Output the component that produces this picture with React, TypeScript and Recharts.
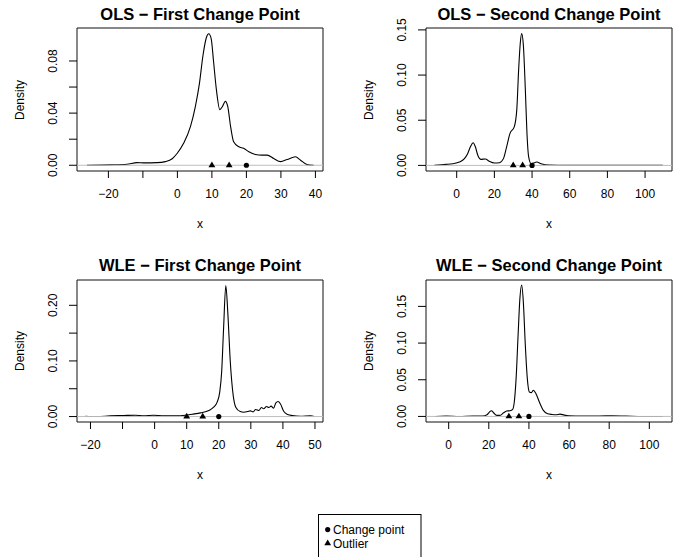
import { ComposedChart, Line, ReferenceArea, ReferenceLine, Scatter, XAxis, YAxis } from "recharts";

const FONT = '"Liberation Sans", Arial, Helvetica, sans-serif';

// OLS - first change point (density estimate)
const ols1X = [-26.2, -19.4, -14.6, -11.7, -9.8, -5.9, -3.5, -1.5, -0.1, 1.8, 3.8, 5.2, 6.4, 7.4, 8.4, 9.1, 9.8, 10.5, 11.3, 12.3, 13.1, 13.9, 14.6, 15.4, 16.3, 17.8, 19.2, 20.7, 22.6, 24.5, 26.0, 27.9, 29.9, 31.8, 34.2, 35.7, 37.6, 39.5];
const ols1Y = [0, 0.0003, 0.0008, 0.002, 0.0018, 0.002, 0.0028, 0.005, 0.009, 0.0168, 0.0298, 0.045, 0.063, 0.084, 0.098, 0.1009, 0.097, 0.079, 0.058, 0.0427, 0.0453, 0.049, 0.045, 0.03, 0.018, 0.0142, 0.013, 0.0104, 0.0083, 0.0078, 0.0078, 0.0052, 0.0028, 0.0044, 0.0065, 0.0039, 0.0005, 0];
const ols1XTicks = [-20, -10, 0, 10, 20, 30, 40];
const ols1XLabels = ["−20", "", "0", "10", "20", "30", "40"];
const ols1YTicks = [0, 0.02, 0.04, 0.06, 0.08];
const ols1YLabels = ["0.00", "", "0.04", "", "0.08"];
const ols1Outliers = [10, 15];
const ols1Change = [20];

// OLS - second change point
const ols2X = [-11.9, -5.7, -2.1, 1.4, 4.1, 5.8, 7.3, 8.7, 9.9, 11.2, 12.9, 15.2, 17.3, 20.0, 22.7, 24.8, 26.5, 28.3, 30.6, 31.9, 32.9, 33.8, 34.5, 35.4, 36.5, 37.3, 38.2, 39.5, 40.7, 42.5, 44.8, 49.2, 58, 70, 85, 100, 109.4];
const ols2Y = [0, 0.0011, 0.0019, 0.0037, 0.0075, 0.013, 0.0206, 0.025, 0.0206, 0.0112, 0.0067, 0.0071, 0.0045, 0.0026, 0.003, 0.0075, 0.0206, 0.0355, 0.043, 0.0617, 0.1066, 0.1366, 0.1459, 0.1328, 0.0804, 0.0355, 0.0094, 0.0019, 0.0026, 0.0037, 0.0019, 0.0004, 0, 0, 0, 0, 0];
const ols2XTicks = [0, 20, 40, 60, 80, 100];
const ols2XLabels = ["0", "20", "40", "60", "80", "100"];
const ols2YTicks = [0, 0.05, 0.1, 0.15];
const ols2YLabels = ["0.00", "0.05", "0.10", "0.15"];
const ols2Outliers = [30, 35];
const ols2Change = [40];

// WLE - first change point
const wle1X = [-21.6, -18, -13.8, -9.7, -6.0, -3.4, -0.3, 2.8, 7.0, 9.6, 11.7, 14.3, 16.9, 18.4, 19.5, 20.3, 20.9, 21.5, 22.2, 22.8, 23.6, 24.5, 25.3, 26.7, 27.8, 29.0, 29.9, 30.7, 31.5, 32.5, 33.3, 34.0, 34.9, 35.6, 36.3, 37.1, 37.8, 38.5, 39.2, 40.3, 41.5, 42.9, 45.5, 48.6, 49.8];
const wle1Y = [0.0006, 0, 0.0012, 0.0018, 0.0024, 0.0012, 0.0024, 0.0012, 0.0012, 0.0024, 0.0042, 0.0066, 0.0108, 0.0169, 0.026, 0.044, 0.08, 0.158, 0.2355, 0.1886, 0.098, 0.038, 0.0169, 0.009, 0.0078, 0.009, 0.0102, 0.0084, 0.0126, 0.0108, 0.0163, 0.0139, 0.018, 0.0163, 0.0187, 0.015, 0.0247, 0.0271, 0.0229, 0.009, 0.0036, 0.0018, 0.0006, 0.0012, 0];
const wle1XTicks = [-20, -10, 0, 10, 20, 30, 40, 50];
const wle1XLabels = ["−20", "", "0", "10", "20", "30", "40", "50"];
const wle1YTicks = [0, 0.05, 0.1, 0.15, 0.2];
const wle1YLabels = ["0.00", "", "0.10", "", "0.20"];
const wle1Outliers = [10, 15];
const wle1Change = [20];

// WLE - second change point
const wle2X = [-6.6, -1.3, 5.3, 12.0, 16.9, 19.1, 20.3, 21.3, 22.4, 23.9, 25.6, 27.2, 28.9, 30.6, 31.9, 32.7, 33.6, 34.6, 35.5, 36.4, 37.2, 38.2, 39.2, 40.2, 41.2, 42.2, 43.5, 45.2, 47.2, 49.3, 51.5, 53.5, 55.5, 57.6, 60.1, 66.8, 75.1, 81.7, 88.4, 96.7, 106.6];
const wle2Y = [0, 0.0005, 0, 0.0005, 0.0005, 0.0023, 0.0059, 0.0078, 0.005, 0.0014, 0.0014, 0.0046, 0.0073, 0.0078, 0.0096, 0.0196, 0.0515, 0.111, 0.161, 0.1792, 0.1564, 0.097, 0.0515, 0.0333, 0.0324, 0.0356, 0.031, 0.0196, 0.0082, 0.0036, 0.0027, 0.0023, 0.0032, 0.0018, 0.0009, 0.0005, 0.0005, 0.0009, 0.0005, 0, 0];
const wle2XTicks = [0, 20, 40, 60, 80, 100];
const wle2XLabels = ["0", "20", "40", "60", "80", "100"];
const wle2YTicks = [0, 0.05, 0.1, 0.15];
const wle2YLabels = ["0.00", "0.05", "0.10", "0.15"];
const wle2Outliers = [30, 35];
const wle2Change = [40];

const legendLabels = ["Change point", "Outlier"];

type PanelProps = {
  title: string;
  xs: number[];
  ys: number[];
  xTicks: number[];
  xLabels: string[];
  yTicks: number[];
  yLabels: string[];
  outliers: number[];
  changes: number[];
  xDomain: [number, number];
  yDomain: [number, number];
  left: number;
  top: number;
  plotHeight: number;
  titleTop: number;
};

const triangle = (props: any) => {
  const { cx, cy } = props;
  return <path d={`M${cx},${cy - 3.8}L${cx + 3.4},${cy + 1.9}L${cx - 3.4},${cy + 1.9}Z`} fill="#000" />;
};

const dot = (props: any) => <circle cx={props.cx} cy={props.cy} r={2.6} fill="#000" />;

function Panel(p: PanelProps) {
  const W = 333;
  const MT = 28;
  const XH = 40;
  const H = MT + p.plotHeight + XH;
  const curve = p.xs.map((x, i) => ({ x, y: p.ys[i] }));
  const outl = p.outliers.map((x) => ({ x, y: 0 }));
  const chg = p.changes.map((x) => ({ x, y: 0 }));
  const plotMid = MT + p.plotHeight / 2;

  return (
    <div style={{ position: "absolute", left: p.left, top: p.top, width: W, height: H, fontFamily: FONT }}>
      <div
        style={{
          position: "absolute",
          left: 77,
          width: 246,
          top: p.titleTop,
          lineHeight: "20px",
          textAlign: "center",
          fontWeight: "bold",
          fontSize: 16.5,
          whiteSpace: "nowrap",
        }}
      >
        {p.title}
      </div>
      <div
        style={{
          position: "absolute",
          left: -40,
          top: plotMid - 10,
          width: 120,
          lineHeight: "20px",
          textAlign: "center",
          fontSize: 12,
          transform: "rotate(-90deg)",
        }}
      >
        Density
      </div>
      <div
        style={{
          position: "absolute",
          left: 77,
          width: 246,
          top: MT + p.plotHeight + 43,
          lineHeight: "20px",
          textAlign: "center",
          fontSize: 12,
        }}
      >
        x
      </div>
      <ComposedChart width={W} height={H} margin={{ top: MT, right: 10, bottom: 0, left: 0 }}>
        <XAxis
          type="number"
          dataKey="x"
          domain={p.xDomain}
          ticks={p.xTicks}
          interval={0}
          allowDataOverflow
          axisLine={false}
          tickSize={7}
          tickLine={{ stroke: "#000" }}
          height={XH}
          tick={(t: any) => {
            const label = p.xLabels[p.xTicks.indexOf(t.payload.value)];
            if (!label) return <g />;
            return (
              <text x={t.x} y={t.y + 18} textAnchor="middle" fontSize={12} fontFamily={FONT} fill="#000">
                {label}
              </text>
            );
          }}
        />
        <YAxis
          type="number"
          dataKey="y"
          domain={p.yDomain}
          ticks={p.yTicks}
          interval={0}
          allowDataOverflow
          axisLine={false}
          tickSize={8}
          tickLine={{ stroke: "#000" }}
          width={77}
          tick={(t: any) => {
            const label = p.yLabels[p.yTicks.indexOf(t.payload.value)];
            if (!label) return <g />;
            const bx = t.x - 10;
            return (
              <text
                x={bx}
                y={t.y}
                transform={`rotate(-90 ${bx} ${t.y})`}
                textAnchor="middle"
                fontSize={12}
                fontFamily={FONT}
                fill="#000"
              >
                {label}
              </text>
            );
          }}
        />
        <ReferenceArea
          x1={p.xDomain[0]}
          x2={p.xDomain[1]}
          y1={p.yDomain[0]}
          y2={p.yDomain[1]}
          fill="none"
          stroke="#111"
          strokeWidth={1}
          ifOverflow="visible"
        />
        <Line
          data={curve}
          dataKey="y"
          type="monotone"
          stroke="#000"
          strokeWidth={1.1}
          dot={false}
          activeDot={false}
          isAnimationActive={false}
        />
        <ReferenceLine y={0} stroke="#bebebe" strokeWidth={1} />
        <Scatter data={outl} dataKey="y" shape={triangle} isAnimationActive={false} />
        <Scatter data={chg} dataKey="y" shape={dot} isAnimationActive={false} />
      </ComposedChart>
    </div>
  );
}

export default function App() {
  return (
    <div style={{ position: "absolute", left: 0, top: 0, width: 683, height: 557, background: "#fff", overflow: "hidden" }}>
      <Panel
        title="OLS − First Change Point"
        xs={ols1X}
        ys={ols1Y}
        xTicks={ols1XTicks}
        xLabels={ols1XLabels}
        yTicks={ols1YTicks}
        yLabels={ols1YLabels}
        outliers={ols1Outliers}
        changes={ols1Change}
        xDomain={[-29.1, 42.2]}
        yDomain={[-0.0044, 0.1053]}
        left={0}
        top={0}
        plotHeight={143}
        titleTop={4}
      />
      <Panel
        title="OLS − Second Change Point"
        xs={ols2X}
        ys={ols2Y}
        xTicks={ols2XTicks}
        xLabels={ols2XLabels}
        yTicks={ols2YTicks}
        yLabels={ols2YLabels}
        outliers={ols2Outliers}
        changes={ols2Change}
        xDomain={[-16.3, 114.3]}
        yDomain={[-0.0062, 0.1521]}
        left={349}
        top={0}
        plotHeight={143}
        titleTop={4}
      />
      <Panel
        title="WLE − First Change Point"
        xs={wle1X}
        ys={wle1Y}
        xTicks={wle1XTicks}
        xLabels={wle1XLabels}
        yTicks={wle1YTicks}
        yLabels={wle1YLabels}
        outliers={wle1Outliers}
        changes={wle1Change}
        xDomain={[-24.2, 52.5]}
        yDomain={[-0.0098, 0.2455]}
        left={0}
        top={252}
        plotHeight={142}
        titleTop={3}
      />
      <Panel
        title="WLE − Second Change Point"
        xs={wle2X}
        ys={wle2Y}
        xTicks={wle2XTicks}
        xLabels={wle2XLabels}
        yTicks={wle2YTicks}
        yLabels={wle2YLabels}
        outliers={wle2Outliers}
        changes={wle2Change}
        xDomain={[-11.3, 111.3]}
        yDomain={[-0.0076, 0.186]}
        left={349}
        top={252}
        plotHeight={142}
        titleTop={3}
      />
      <svg width={683} height={57} style={{ position: "absolute", left: 0, top: 500 }}>
        <rect x={318.5} y={14.5} width={102.5} height={60} fill="none" stroke="#000" strokeWidth={1} />
        <circle cx={327.7} cy={29.6} r={2.6} fill="#000" />
        <path d="M327.7,39.6L331.1,45.3L324.3,45.3Z" fill="#000" />
        <text x={333} y={33.9} fontSize={12} fontFamily={FONT} fill="#000">
          {legendLabels[0]}
        </text>
        <text x={333} y={47.7} fontSize={12} fontFamily={FONT} fill="#000">
          {legendLabels[1]}
        </text>
      </svg>
    </div>
  );
}
